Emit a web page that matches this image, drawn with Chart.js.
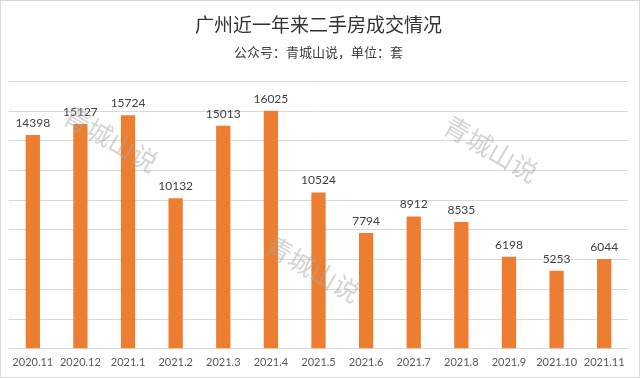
<!DOCTYPE html>
<html>
<head>
<meta charset="utf-8">
<script src="https://cdn.jsdelivr.net/npm/chart.js@4"></script>
<style>
  html, body { margin: 0; padding: 0; background: #fff; }
  #wrap { width: 638px; height: 376px; border: 1px solid #d9d9d9; position: relative; }
</style>
</head>
<body>
<div id="wrap"><canvas id="chart"></canvas></div>
<script>
const months = ['2020.11', '2020.12', '2021.1', '2021.2', '2021.3', '2021.4', '2021.5', '2021.6', '2021.7', '2021.8', '2021.9', '2021.10', '2021.11'];
const deals = [14398, 15127, 15724, 10132, 15013, 16025, 10524, 7794, 8912, 8535, 6198, 5253, 6044];
const watermarkText = '青城山说';

// value labels above each bar
const barLabels = {
  id: 'barLabels',
  afterDatasetsDraw(chart) {
    const ctx = chart.ctx;
    const meta = chart.getDatasetMeta(0);
    ctx.save();
    ctx.font = '12px Lato, "Open Sans", sans-serif';
    ctx.fillStyle = '#404040';
    ctx.textAlign = 'center';
    ctx.textBaseline = 'bottom';
    meta.data.forEach((bar, i) => {
      ctx.fillText(deals[i], bar.x, bar.y - 6);
    });
    ctx.restore();
  }
};

// faint rotated watermark text
const watermark = {
  id: 'watermark',
  afterDraw(chart) {
    const ctx = chart.ctx;
    const spots = [[110, 138], [490, 148], [312, 268]];
    ctx.save();
    ctx.font = '26px "Noto Sans CJK SC", sans-serif';
    ctx.fillStyle = 'rgba(170,170,170,0.5)';
    ctx.textAlign = 'center';
    ctx.textBaseline = 'middle';
    spots.forEach(([x, y]) => {
      ctx.save();
      ctx.translate(x, y);
      ctx.rotate(30 * Math.PI / 180);
      ctx.fillText(watermarkText, 0, 0);
      ctx.restore();
    });
    ctx.restore();
  }
};

new Chart(document.getElementById('chart'), {
  type: 'bar',
  data: {
    labels: months,
    datasets: [{
      label: '成交套数',
      data: deals,
      backgroundColor: '#ed7d31',
      categoryPercentage: 1,
      barPercentage: 0.3
    }]
  },
  options: {
    responsive: true,
    maintainAspectRatio: false,
    animation: false,
    layout: { padding: { left: 8, right: 11, top: 10, bottom: 1 } },
    plugins: {
      legend: { display: false },
      tooltip: { enabled: false },
      title: {
        display: true,
        text: '广州近一年来二手房成交情况',
        color: '#333',
        font: { size: 19, family: '"Noto Sans CJK SC", sans-serif', weight: 'normal' },
        padding: { top: 2, bottom: 8 }
      },
      subtitle: {
        display: true,
        text: '公众号：青城山说，单位：套',
        color: '#404040',
        font: { size: 13, family: '"Noto Sans CJK SC", sans-serif' },
        padding: { bottom: 22 }
      }
    },
    scales: {
      x: {
        grid: { display: false, drawTicks: false },
        border: { display: false },
        ticks: { color: '#595959', font: { size: 11, family: 'Lato, "Open Sans", sans-serif' }, padding: 7, maxRotation: 0 }
      },
      y: {
        min: 0,
        max: 18000,
        ticks: { display: false, stepSize: 2000 },
        grid: { color: '#d9d9d9', drawTicks: false },
        border: { display: false }
      }
    }
  },
  plugins: [barLabels, watermark]
});
</script>
</body>
</html>
